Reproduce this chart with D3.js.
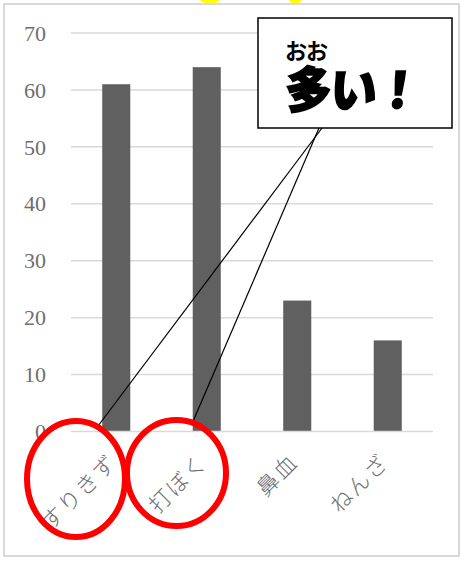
<!DOCTYPE html>
<html><head><meta charset="utf-8">
<script src="https://cdn.jsdelivr.net/npm/d3@7"></script>
<style>body{margin:0;background:#fff}</style>
</head><body>
<script>
const categories = ["すりきず", "打ぼく", "鼻血", "ねんざ"];
const values = [61, 64, 23, 16];
const yTicks = [0, 10, 20, 30, 40, 50, 60, 70];
const calloutRuby = "おお";
const calloutText = "多い！";
const highlighted = ["すりきず", "打ぼく"];

const W = 462, H = 562;
const svg = d3.select("body").append("svg").attr("width", W).attr("height", H);

// decorative yellow shapes cut off at top
svg.append("ellipse").attr("cx", 210).attr("cy", -9).attr("rx", 14).attr("ry", 13).attr("fill", "#ffff00");
svg.append("ellipse").attr("cx", 295).attr("cy", -9).attr("rx", 9).attr("ry", 13).attr("fill", "#ffff00");

// chart border
svg.append("rect").attr("x", 4).attr("y", 4).attr("width", 455).attr("height", 552)
  .attr("fill", "none").attr("stroke", "#d9d9d9").attr("stroke-width", 2);

const x = d3.scaleBand().domain(categories).range([71, 433]).paddingInner(0.69).paddingOuter(0.345);
const y = d3.scaleLinear().domain([0, 70]).range([431.5, 33]);

// gridlines
svg.append("g").selectAll("line").data(yTicks.filter(d => d > 0)).join("line")
  .attr("x1", 71).attr("x2", 433).attr("y1", d => y(d)).attr("y2", d => y(d))
  .attr("stroke", "#d9d9d9").attr("stroke-width", 1.5);

// y labels
svg.append("g").selectAll("text").data(yTicks).join("text")
  .attr("x", 46).attr("y", d => y(d)).attr("dy", "0.35em").attr("text-anchor", "end")
  .attr("font-family", "'Liberation Serif', serif").attr("font-size", 22).attr("fill", "#6e6e6e")
  .text(d => d);

// bars
svg.append("g").selectAll("rect").data(values).join("rect")
  .attr("x", (d, i) => x(categories[i])).attr("width", x.bandwidth())
  .attr("y", d => y(d)).attr("height", d => y(0) - y(d)).attr("fill", "#606060");

// baseline
svg.append("line").attr("x1", 71).attr("x2", 433).attr("y1", y(0)).attr("y2", y(0))
  .attr("stroke", "#d9d9d9").attr("stroke-width", 1.5);

// x labels
svg.append("g").selectAll("text").data(categories).join("text")
  .attr("transform", d => `translate(${x(d) + x.bandwidth() / 2 - 3},${458}) rotate(-45)`)
  .attr("text-anchor", "end").attr("dy", "0.35em")
  .attr("font-family", "'Noto Sans CJK JP', sans-serif").attr("font-weight", 300)
  .attr("font-size", 22).attr("fill", "#6e6e6e").attr("letter-spacing", 2)
  .text(d => d);

// callout box
svg.append("rect").attr("x", 258).attr("y", 18).attr("width", 194).attr("height", 110)
  .attr("fill", "#fff").attr("stroke", "#000").attr("stroke-width", 1.5);
svg.append("text").attr("x", 285).attr("y", 59)
  .attr("font-family", "'Noto Sans CJK JP', sans-serif").attr("font-weight", 700)
  .attr("font-size", 22).attr("fill", "#000").attr("letter-spacing", -1).text(calloutRuby);
svg.append("text").attr("transform", "translate(283,108) skewX(-6) scale(1.05,1.1)")
  .attr("font-family", "'Noto Sans CJK JP', sans-serif").attr("font-weight", 900)
  .attr("font-size", 45).attr("fill", "#000").attr("stroke", "#000").attr("stroke-width", 1.5)
  .attr("letter-spacing", -2).text(calloutText);

// callout pointers
const starts = [322, 319];
svg.append("g").selectAll("line").data(highlighted).join("line")
  .attr("x1", (d, i) => starts[i]).attr("y1", 128)
  .attr("x2", (d, i) => x(d) + x.bandwidth() / 2 + (i === 0 ? -19 : -14))
  .attr("y2", (d, i) => i === 0 ? 427 : 422)
  .attr("stroke", "#000").attr("stroke-width", 1.2);

// red ellipses
const ell = [{cx: 76, cy: 479, rx: 49, ry: 58}, {cx: 176.5, cy: 473, rx: 49.5, ry: 53}];
svg.append("g").selectAll("ellipse").data(ell).join("ellipse")
  .attr("cx", d => d.cx).attr("cy", d => d.cy).attr("rx", d => d.rx).attr("ry", d => d.ry)
  .attr("fill", "none").attr("stroke", "#ff0000").attr("stroke-width", 6);
</script>
</body></html>
